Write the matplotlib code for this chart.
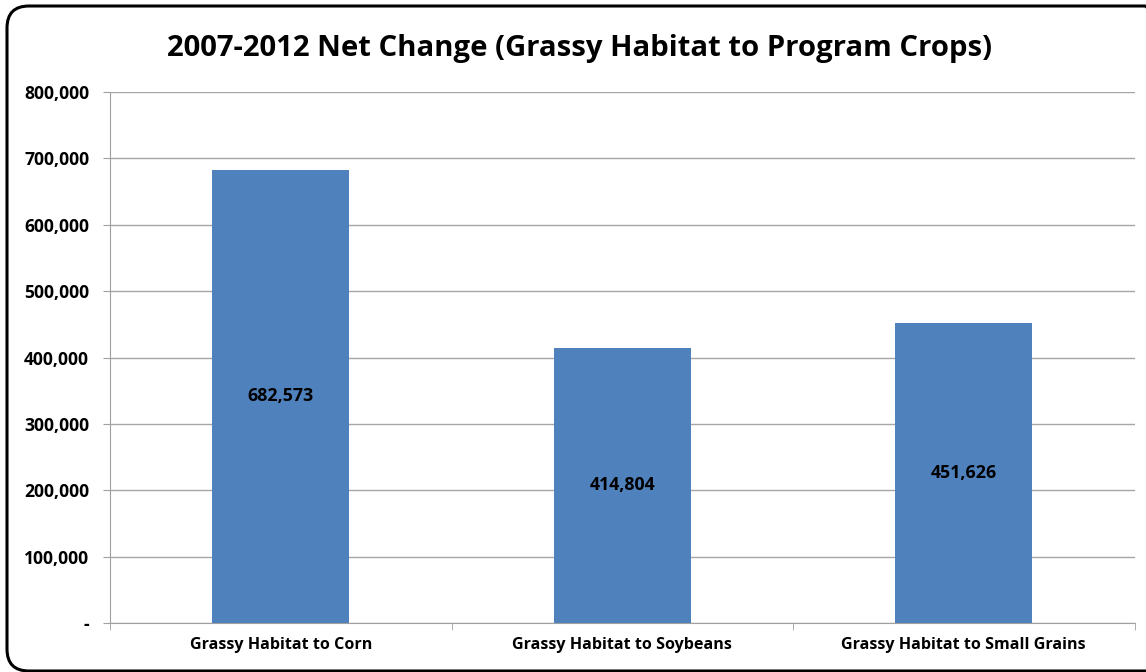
import matplotlib.pyplot as plt
from matplotlib.patches import FancyBboxPatch
from matplotlib.ticker import FuncFormatter

categories = ["Grassy Habitat to Corn", "Grassy Habitat to Soybeans", "Grassy Habitat to Small Grains"]
values = [682573, 414804, 451626]
yticks = [0, 100000, 200000, 300000, 400000, 500000, 600000, 700000, 800000]

plt.rcParams['font.family'] = ['Open Sans', 'DejaVu Sans']

fig = plt.figure(figsize=(11.46, 6.72), dpi=100)
ax = fig.add_axes([0.096, 0.073, 0.894, 0.79])

x = range(len(categories))
ax.bar(x, values, width=0.4, color="#4F81BD", zorder=3)
for i, v in enumerate(values):
    ax.text(i, v / 2, f"{v:,}", ha="center", va="center", fontsize=12.8, fontweight="bold", zorder=4)

ax.set_xlim(-0.5, 2.5)
ax.set_ylim(0, 800000)
ax.set_yticks(yticks)
ax.yaxis.set_major_formatter(FuncFormatter(lambda v, p: "-" if v == 0 else f"{int(v):,}"))
ax.set_xticks(list(x))
ax.set_xticklabels(categories, fontsize=11.6, fontweight="bold")
ax.set_xticks([-0.5, 0.5, 1.5, 2.5], minor=True)
ax.tick_params(axis="x", which="major", length=0, pad=10)
ax.tick_params(axis="x", which="minor", length=5, color="#a0a0a0")
ax.tick_params(axis="y", length=5, color="#a0a0a0", pad=10)
for lab in ax.get_yticklabels():
    lab.set_fontweight("bold")
    lab.set_fontsize(12.6)
ax.grid(axis="y", color="#a6a6a6", linewidth=1, zorder=0)
for s in ["top", "right"]:
    ax.spines[s].set_visible(False)
ax.spines["left"].set_color("#a0a0a0")
ax.spines["bottom"].set_color("#a0a0a0")

fig.text(0.506, 0.928, "2007-2012 Net Change (Grassy Habitat to Program Crops)",
         ha="center", va="center", fontsize=21.1, fontweight="bold")

border = FancyBboxPatch((7, 1), 1160, 665, boxstyle="round,pad=0,rounding_size=22",
                        transform=None, fill=False, edgecolor="black", linewidth=2.2)
fig.patches.append(border)

fig.savefig("out.png", dpi=100)
